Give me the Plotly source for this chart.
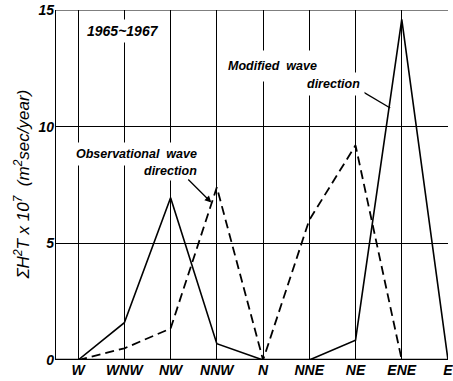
import plotly.graph_objects as go

directions = ["W", "WNW", "NW", "NNW", "N", "NNE", "NE", "ENE", "E"]
modified = [0, 1.6, 6.95, 0.7, 0, 0, 0.85, 14.6, 0]
observational = [0, 0.5, 1.35, 7.4, 0, 6.0, 9.2, 0, None]
y_ticks = [0, 5, 10, 15]

xpos = list(range(len(directions)))
FONT = "Liberation Sans"

fig = go.Figure()
fig.add_trace(go.Scatter(x=xpos, y=observational, mode="lines",
                         line=dict(color="black", width=1.8, dash="9px,5px"),
                         connectgaps=False, showlegend=False))
fig.add_trace(go.Scatter(x=xpos, y=modified, mode="lines",
                         line=dict(color="black", width=1.6),
                         showlegend=False))

tick_font = dict(family=FONT, size=14, color="black", style="italic", weight="bold")
lab_font = dict(family=FONT, size=12.5, color="black", style="italic", weight="bold")

fig.update_xaxes(range=[-0.5, 8], tickvals=xpos, ticktext=directions,
                 showgrid=True, gridcolor="black", gridwidth=1,
                 zeroline=False, showline=False, ticks="",
                 ticklabeloverflow="allow", automargin=False,
                 tickfont=tick_font, fixedrange=True)
fig.update_yaxes(range=[0, 15], tickvals=y_ticks, ticktext=[str(v) for v in y_ticks],
                 showgrid=True, gridcolor="black", gridwidth=1,
                 zeroline=False, showline=False, ticks="",
                 ticklabeloverflow="allow", automargin=False,
                 tickfont=tick_font, fixedrange=True)

# frame: heavy left and bottom axes, thin top
fig.add_shape(type="line", xref="x", yref="y", x0=-0.5, x1=8, y0=0, y1=0,
              line=dict(color="black", width=2.5))
fig.add_shape(type="line", xref="x", yref="y", x0=-0.5, x1=-0.5, y0=0, y1=15,
              line=dict(color="black", width=2))
fig.add_shape(type="line", xref="x", yref="y", x0=-0.5, x1=8, y0=15, y1=15,
              line=dict(color="black", width=1.2))

anns = [
    dict(x=0.1, y=14.1, text="1965~1967", xanchor="left", yanchor="middle",
         font=dict(family=FONT, size=14, color="black", style="italic", weight="bold"),
         bgcolor="white", borderpad=3),
    dict(x=3.05, y=12.6, text="Modified  wave", xanchor="left", yanchor="middle",
         font=lab_font, bgcolor="white", borderpad=8),
    dict(x=4.85, y=11.85, text="direction", xanchor="left", yanchor="middle",
         font=lab_font, bgcolor="white", borderpad=4),
    dict(x=-0.15, y=8.85, text="Observational  wave", xanchor="left", yanchor="middle",
         font=lab_font, bgcolor="white", borderpad=4),
    dict(x=1.35, y=8.1, text="direction", xanchor="left", yanchor="middle",
         font=lab_font, bgcolor="white", borderpad=2),
]
for a in anns:
    fig.add_annotation(xref="x", yref="y", showarrow=False, **a)

# leader line to the modified curve
fig.add_shape(type="line", xref="x", yref="y", x0=6.07, y0=11.6, x1=6.75, y1=10.8,
              line=dict(color="black", width=1.3))
# leader arrow to the observational curve
fig.add_annotation(xref="x", yref="y", axref="x", ayref="y",
                   x=2.88, y=6.75, ax=2.35, ay=7.8, text="", showarrow=True,
                   arrowhead=2, arrowsize=1, arrowwidth=1.3, arrowcolor="black")

fig.add_annotation(xref="paper", yref="paper", x=-0.085, y=0.5,
                   text="ΣH<sup>2</sup>T x 10<sup>7</sup>  (m<sup>2</sup>sec/year)",
                   textangle=-90, showarrow=False, xanchor="center", yanchor="middle",
                   font=dict(family=FONT, size=17, color="black", style="italic"))

fig.update_layout(width=453, height=381,
                  margin=dict(l=55, r=5, t=10, b=21),
                  paper_bgcolor="white", plot_bgcolor="white")

fig.write_html("out.html")
